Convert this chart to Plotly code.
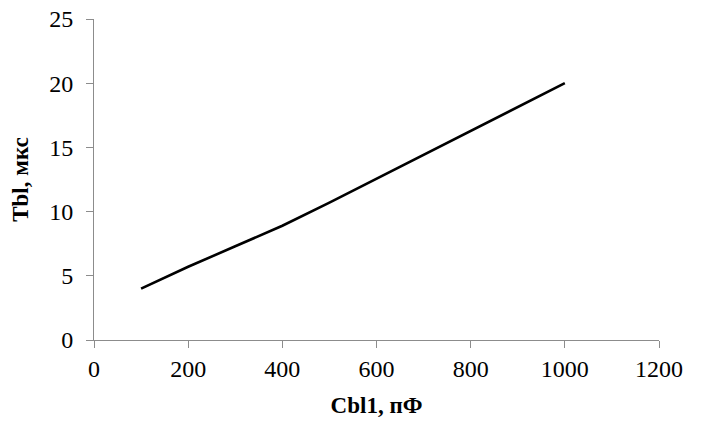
import plotly.graph_objects as go

capacitance = [100, 200, 300, 400, 500, 600, 700, 800, 900, 1000]
time_us = [4.0, 5.7, 7.3, 8.9, 10.7, 12.55, 14.4, 16.25, 18.1, 20.0]

x_ticks = [0, 200, 400, 600, 800, 1000, 1200]
y_ticks = [0, 5, 10, 15, 20, 25]

font_family = "Liberation Serif"
axis_color = "#8c8c8c"

fig = go.Figure()
fig.add_trace(go.Scatter(
    x=capacitance, y=time_us, mode="lines",
    line=dict(color="black", width=2.6),
    showlegend=False,
))

fig.update_layout(
    width=703, height=423,
    margin=dict(l=94, r=44, t=19, b=83, autoexpand=False),
    paper_bgcolor="white", plot_bgcolor="white",
    font=dict(family=font_family, size=20, color="black"),
)
fig.update_xaxes(
    range=[0, 1200], tickvals=x_ticks, ticks="outside", ticklen=7,
    tickcolor=axis_color, showline=True, linecolor=axis_color, linewidth=1,
    showgrid=False, zeroline=False, automargin=False,
    tickfont=dict(family=font_family, size=24),
    title=dict(text="<b>Cbl1, пФ</b>", font=dict(family=font_family, size=23), standoff=16),
)
fig.update_yaxes(
    range=[0, 25], tickvals=y_ticks, ticks="outside", ticklen=7,
    tickcolor=axis_color, showline=True, linecolor=axis_color, linewidth=1,
    showgrid=False, zeroline=False, automargin=False, ticklabelstandoff=8,
    tickfont=dict(family=font_family, size=24),
    title=dict(text="<b>Tbl, мкс</b>", font=dict(family=font_family, size=23), standoff=14),
)

fig.write_html("out.html", config={"displayModeBar": False},
               post_script="document.body.style.margin='0';")
